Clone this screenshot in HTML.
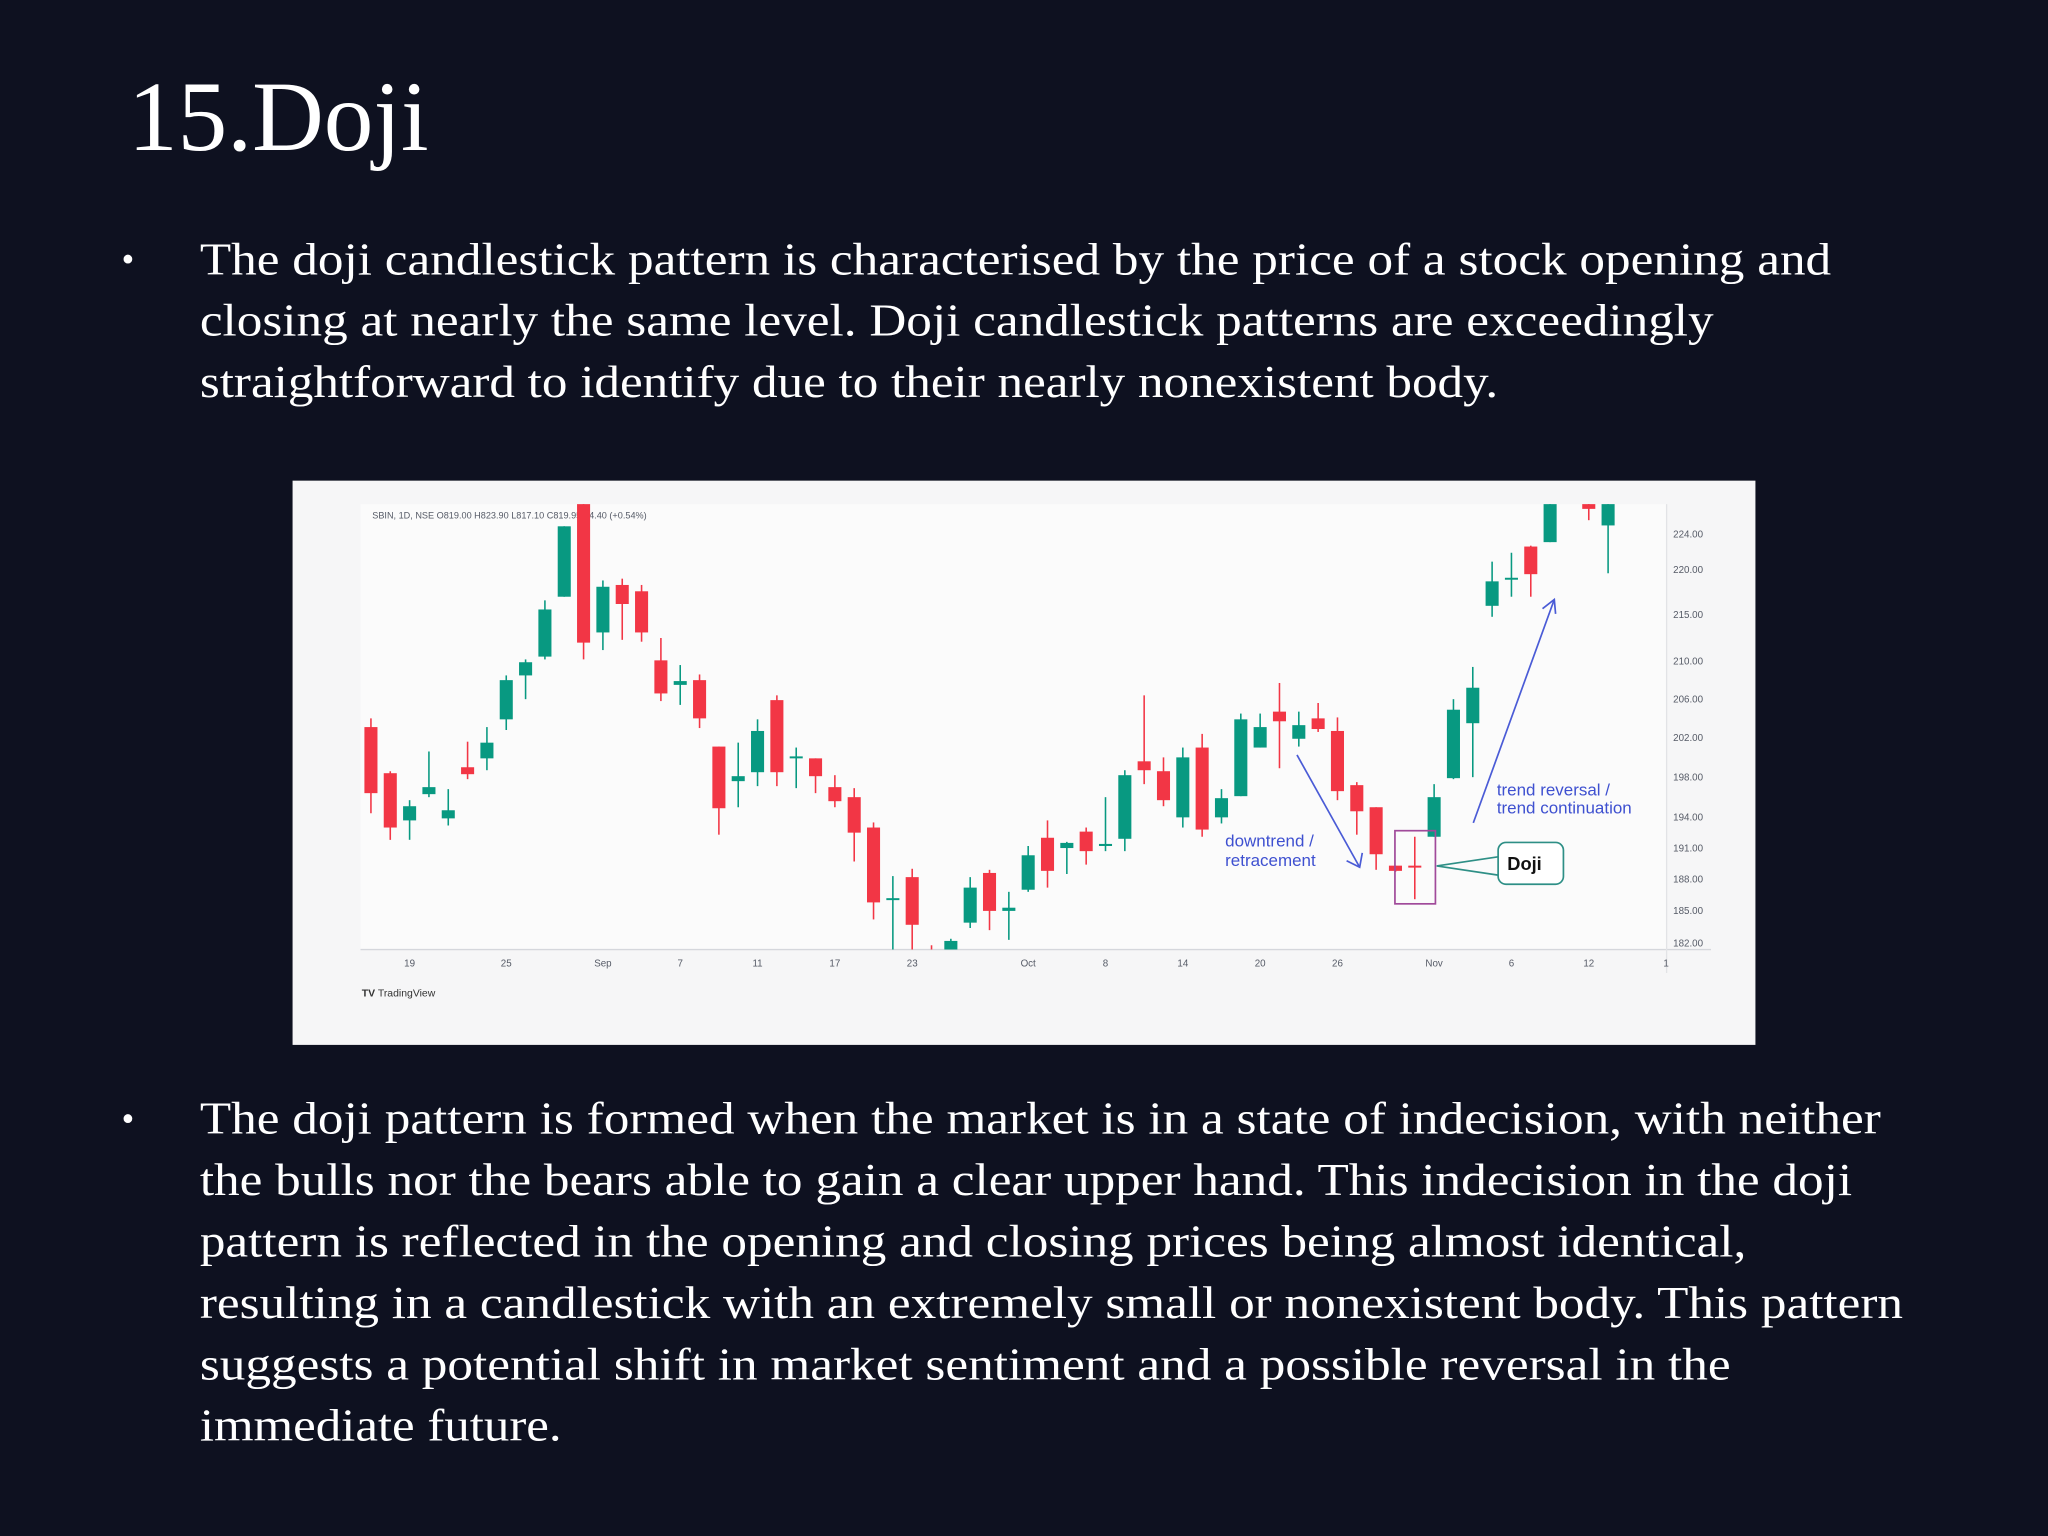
<!DOCTYPE html>
<html><head><meta charset="utf-8"><style>
html,body{margin:0;padding:0;background:#0e1120;}
svg{display:block;}
</style></head><body>
<svg id="slide" width="2048" height="1536" viewBox="0 0 1568 1176" xmlns="http://www.w3.org/2000/svg" font-family="'Liberation Serif', serif">
<rect width="1568" height="1176" fill="#0e1120"/>
<text x="98" y="115" font-size="76" fill="#ffffff">15.Doji</text>
<g fill="#ffffff" font-size="35">
<text x="93" y="208" font-size="28">•</text>
<text x="153" y="210" textLength="1249" lengthAdjust="spacingAndGlyphs">The doji candlestick pattern is characterised by the price of a stock opening and</text>
<text x="153" y="257" textLength="1159" lengthAdjust="spacingAndGlyphs">closing at nearly the same level. Doji candlestick patterns are exceedingly</text>
<text x="153" y="304" textLength="994" lengthAdjust="spacingAndGlyphs">straightforward to identify due to their nearly nonexistent body.</text>
</g>
<g fill="#ffffff" font-size="35">
<text x="93" y="866" font-size="28">•</text>
<text x="153" y="868" textLength="1287" lengthAdjust="spacingAndGlyphs">The doji pattern is formed when the market is in a state of indecision, with neither</text>
<text x="153" y="915" textLength="1265" lengthAdjust="spacingAndGlyphs">the bulls nor the bears able to gain a clear upper hand. This indecision in the doji</text>
<text x="153" y="962" textLength="1184" lengthAdjust="spacingAndGlyphs">pattern is reflected in the opening and closing prices being almost identical,</text>
<text x="153" y="1009" textLength="1304" lengthAdjust="spacingAndGlyphs">resulting in a candlestick with an extremely small or nonexistent body. This pattern</text>
<text x="153" y="1056" textLength="1172" lengthAdjust="spacingAndGlyphs">suggests a potential shift in market sentiment and a possible reversal in the</text>
<text x="153" y="1103" textLength="277" lengthAdjust="spacingAndGlyphs">immediate future.</text>
</g>
<g font-family="'Liberation Sans', sans-serif">
<rect x="224" y="368" width="1120" height="432" fill="#f6f6f7"/>
<rect x="276" y="386" width="1000" height="341" fill="#fbfbfb"/>
<defs><clipPath id="plotclip"><rect x="276" y="386" width="1000" height="341"/></clipPath></defs>
<line x1="276" y1="727" x2="1310" y2="727" stroke="#d5d7dc" stroke-width="1"/>
<line x1="1276" y1="386" x2="1276" y2="745" stroke="#e2e3e6" stroke-width="1"/>
<text x="285" y="397" font-size="7" fill="#555a66">SBIN, 1D, NSE  O819.00  H823.90  L817.10  C819.95  +4.40 (+0.54%)</text>
<g id="candles" clip-path="url(#plotclip)"></g>
<g id="ylabels"></g>
<g id="xlabels"></g>
<text x="277" y="763" font-size="8" fill="#333"><tspan font-weight="bold">TV</tspan> TradingView</text>
<line x1="993" y1="578" x2="1041" y2="664" stroke="#4a5bd6" stroke-width="1.3"/>
<polyline points="1031,659 1041,664 1043,653" fill="none" stroke="#4a5bd6" stroke-width="1.3"/>
<text x="938" y="648" font-size="13" fill="#3e50d0">downtrend /</text>
<text x="938" y="663" font-size="13" fill="#3e50d0">retracement</text>
<line x1="1128" y1="630" x2="1190" y2="459" stroke="#4a5bd6" stroke-width="1.3"/>
<polyline points="1181,466 1190,459 1191,470" fill="none" stroke="#4a5bd6" stroke-width="1.3"/>
<text x="1146" y="609" font-size="13" fill="#3e50d0">trend reversal /</text>
<text x="1146" y="623" font-size="13" fill="#3e50d0">trend continuation</text>
<rect x="1068" y="636" width="31" height="56" fill="none" stroke="#a04a9a" stroke-width="1.3"/>
<polyline points="1147,656 1100,663 1147,670" fill="none" stroke="#2e8f86" stroke-width="1.3"/>
<rect x="1147" y="645" width="50" height="32" rx="6" fill="#ffffff" stroke="#2e8f86" stroke-width="1.3"/>
<text x="1154" y="666" font-size="14" font-weight="bold" fill="#111">Doji</text>
</g>
</svg>
<script>
const opens=[203.1,198.4,193.7,196.3,193.9,199.0,199.9,203.9,208.5,210.5,217.0,227.8,213.1,218.3,217.6,210.1,207.5,208.0,201.1,197.6,198.5,205.9,199.9,199.9,197.0,196.0,193.0,186.1,188.2,181.0,180.5,183.9,188.6,185.0,187.0,192.0,191.0,192.6,191.2,191.9,199.6,198.6,194.0,201.0,194.0,196.1,201.0,204.7,201.9,204.0,202.7,197.2,195.0,189.3,189.3,192.1,197.9,203.5,216.0,219.0,222.6,223.1,null,227.5,225.0];
const highs=[204.0,198.6,195.7,200.6,196.8,201.6,203.1,208.5,210.2,216.6,224.9,229,218.8,219.0,218.3,212.5,209.6,208.6,201.1,201.5,203.9,206.4,201.0,199.9,198.2,196.9,193.5,188.3,189.0,181.8,182.4,188.2,188.9,186.8,191.2,193.7,191.6,193.0,196.0,198.7,206.4,200.0,201.0,202.4,196.8,204.5,204.5,207.7,204.7,205.6,204.1,197.5,195.0,189.3,192.1,197.3,206.0,209.4,220.9,221.9,222.7,228.5,null,228.5,228.5];
const lows=[194.4,191.8,191.8,196.0,193.2,197.8,198.7,202.8,206.0,210.2,217.0,210.2,211.2,212.3,212.1,205.8,205.4,203.0,192.3,195.0,197.1,197.1,196.9,196.4,195.0,189.7,184.2,181.3,181.3,179.0,179.5,183.4,183.2,182.3,186.8,187.2,188.5,189.4,190.7,190.7,197.3,195.1,193.0,192.1,193.4,196.1,201.0,198.9,201.1,202.6,195.7,192.3,188.9,188.7,186.1,192.1,197.8,198.0,214.8,217.0,217.0,223.1,null,225.6,219.6];
const closes=[196.4,193.0,195.1,197.0,194.7,198.3,201.5,208.0,209.9,215.6,224.9,212.0,218.1,216.2,213.1,206.6,207.9,204.0,194.9,198.1,202.7,198.5,200.1,198.1,195.6,192.5,185.8,186.2,183.7,180.0,182.2,187.2,185.0,185.3,190.3,188.8,191.5,190.7,191.4,198.2,198.7,195.7,200.0,192.8,195.9,203.9,203.1,203.7,203.3,202.9,196.6,194.6,190.4,188.8,189.2,196.0,204.9,207.2,218.7,219.1,219.5,228,null,226.9,228];
const priceTicks=[224,220,215,210,206,202,198,194,191,188,185,182];
const dateLabels=["19","25","Sep","7","11","17","23","Oct","8","14","20","26","Nov","6","12","1"];
const dateIndex=[2,7,12,16,20,24,28,34,38,42,46,50,55,59,63,67];

const NS="http://www.w3.org/2000/svg";
function yScale(p){return 409+1507.7*Math.log(224/p);}
function xScale(i){return 284+14.8*i;}
function mk(tag,attrs,parent){const e=document.createElementNS(NS,tag);for(const k in attrs)e.setAttribute(k,attrs[k]);parent.appendChild(e);return e;}

const cg=document.getElementById('candles');
for(let i=0;i<opens.length;i++){
  if(opens[i]===null)continue;
  const up=closes[i]>=opens[i];
  const col=up?'#089981':'#f23645';
  const x=xScale(i);
  const g=mk('g',{},cg);
  
  
  mk('line',{x1:x,x2:x,y1:yScale(highs[i]),y2:yScale(lows[i]),stroke:col,'stroke-width':1.2},g);
  const yt=yScale(Math.max(opens[i],closes[i])),yb=yScale(Math.min(opens[i],closes[i]));
  mk('rect',{x:x-5,y:yt,width:10,height:Math.max(1.5,yb-yt),fill:col},g);
}
const yl=document.getElementById('ylabels');
priceTicks.forEach(p=>{
  const t=mk('text',{x:1281,y:yScale(p)+2.5,'font-size':7.5,fill:'#555a66'},yl);
  
  
  t.textContent=p.toFixed(2);
});
const xl=document.getElementById('xlabels');
dateLabels.forEach((d,k)=>{
  const t=mk('text',{x:xScale(dateIndex[k]),y:740,'font-size':7.5,fill:'#555a66','text-anchor':'middle'},xl);
  
  
  t.textContent=d;
});
</script>
</body></html>
